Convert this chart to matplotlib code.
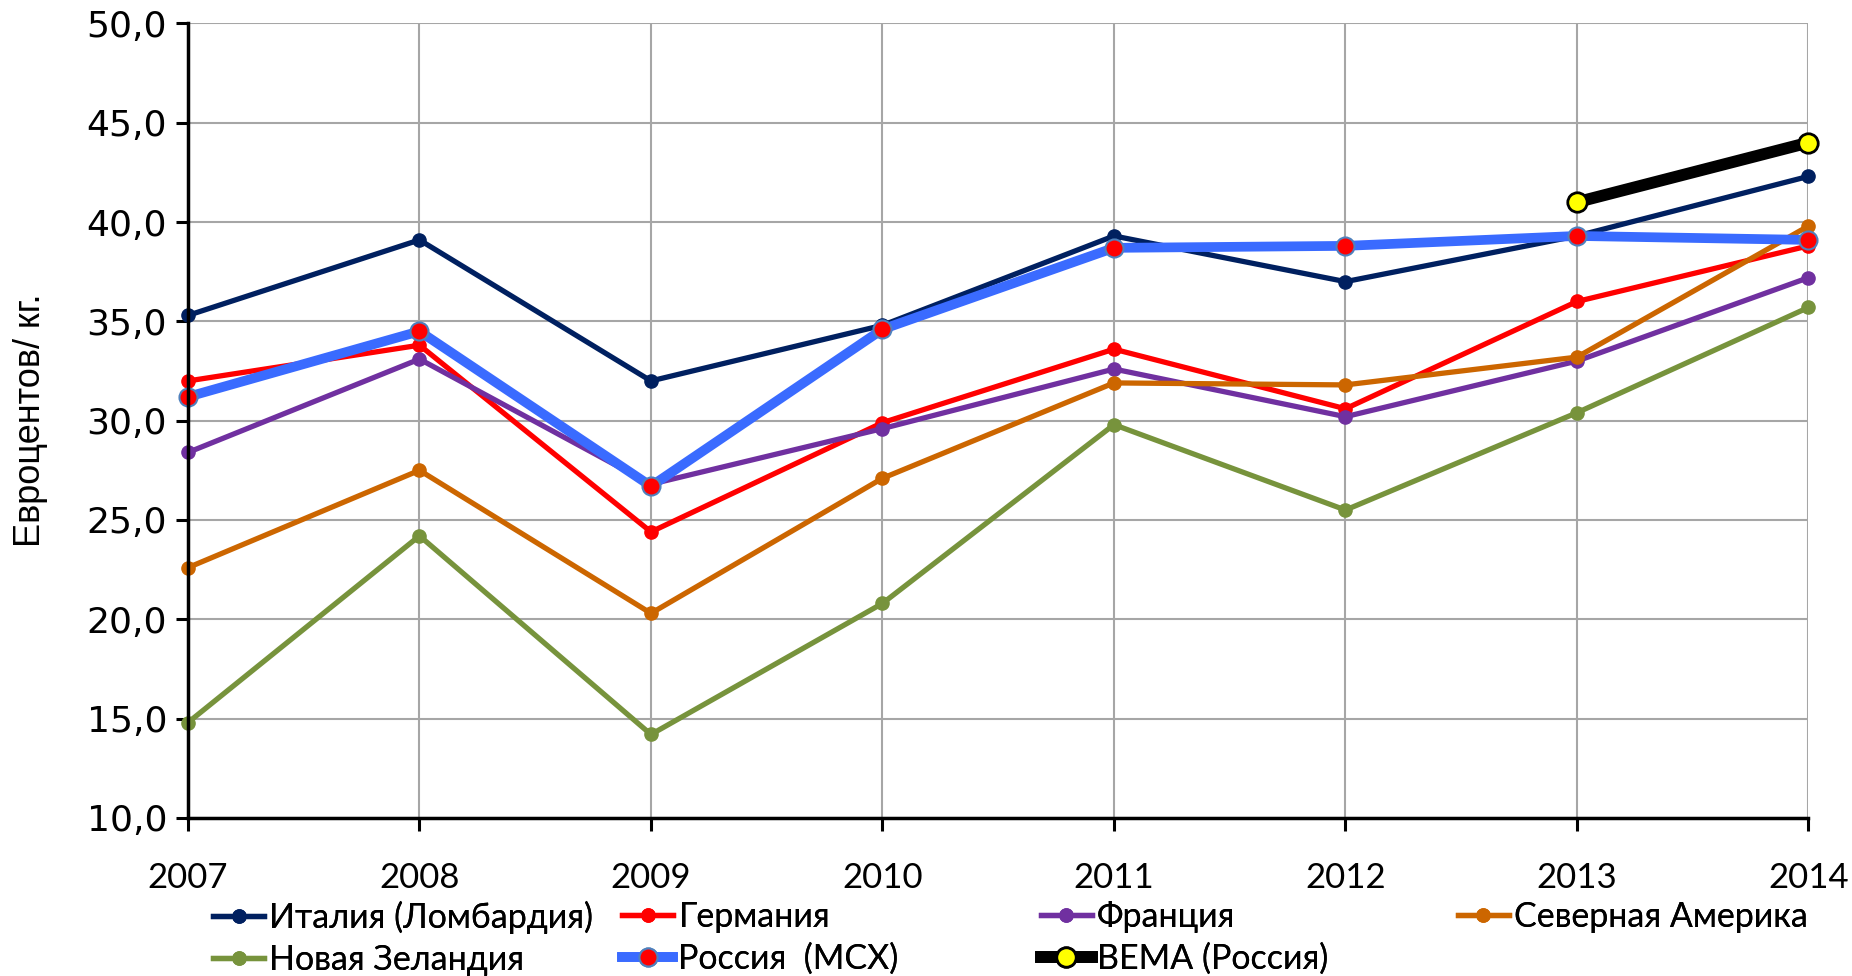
import numpy as np
import matplotlib
matplotlib.use("Agg")
import matplotlib.pyplot as plt

years = [2007, 2008, 2009, 2010, 2011, 2012, 2013, 2014]
italy = [35.3, 39.1, 32.0, 34.8, 39.3, 37.0, 39.3, 42.3]
germany = [32.0, 33.8, 24.4, 29.9, 33.6, 30.6, 36.0, 38.8]
france = [28.4, 33.1, 26.8, 29.6, 32.6, 30.2, 33.0, 37.2]
n_america = [22.6, 27.5, 20.3, 27.1, 31.9, 31.8, 33.2, 39.8]
new_zealand = [14.8, 24.2, 14.2, 20.8, 29.8, 25.5, 30.4, 35.7]
russia_msh = [31.2, 34.5, 26.7, 34.6, 38.7, 38.8, 39.3, 39.1]
bema_years = [2013, 2014]
bema = [41.0, 44.0]

plt.rcParams['font.family'] = ['Lato', 'DejaVu Sans']

fig = plt.figure(figsize=(18.52, 9.76), dpi=100)
ax = fig.add_axes([0.1015, 0.162, 0.875, 0.814])

lw = 3.8
ms = 9.5
kw = dict(marker='o', clip_on=False)
h_it, = ax.plot(years, italy, color='#002060', lw=lw, ms=ms, label='Италия (Ломбардия)', **kw)
h_de, = ax.plot(years, germany, color='#FF0000', lw=lw, ms=ms, label='Германия', **kw)
h_fr, = ax.plot(years, france, color='#7030A0', lw=lw, ms=ms, label='Франция', **kw)
h_na, = ax.plot(years, n_america, color='#CC6600', lw=lw, ms=ms, label='Северная Америка', **kw)
h_nz, = ax.plot(years, new_zealand, color='#77933C', lw=lw, ms=ms, label='Новая Зеландия', **kw)
h_ru, = ax.plot(years, russia_msh, color='#3A6BFF', lw=7, ms=13,
                mfc='#FF0000', mec='#4F81BD', mew=1.5, label='Россия  (МСХ)', **kw)
h_be, = ax.plot(bema_years, bema, color='black', lw=8.5, ms=14,
                mfc='#FFFF00', mec='black', mew=2, label='ВЕМА (Россия)', **kw)

ax.set_xlim(2007, 2014)
ax.set_ylim(10, 50)
ax.set_xticks(years)
ax.set_xticklabels([str(y) for y in years], fontsize=25)
yt = np.arange(10, 51, 5)
ax.set_yticks(yt)
ax.set_yticklabels([f"{v:.1f}".replace('.', ',') for v in yt], fontsize=26, family='DejaVu Sans')
ax.tick_params(axis='both', direction='out', length=9, width=2.2, pad=6)
ax.tick_params(axis='x', pad=23)
ax.grid(True, color='#A6A6A6', lw=1.5)
ax.set_axisbelow(True)
for s in ['top', 'right']:
    ax.spines[s].set_visible(False)
for s in ['left', 'bottom']:
    ax.spines[s].set_linewidth(2.5)
ax.set_ylabel('Евроцентов/ кг.', fontsize=26, family='Liberation Sans', labelpad=28)

cols = [[h_it, h_nz], [h_de, h_ru], [h_fr, h_be], [h_na]]
xs = [0.115, 0.336, 0.562, 0.787]
for hs, x0 in zip(cols, xs):
    lg = fig.legend(handles=hs, loc='upper left', bbox_to_anchor=(x0, 0.077),
                    frameon=False, fontsize=24.5, handlelength=1.5, handletextpad=0.15,
                    labelspacing=0.3, borderaxespad=0, borderpad=0)
    fig.add_artist(lg)

fig.savefig('out.png', dpi=100)
